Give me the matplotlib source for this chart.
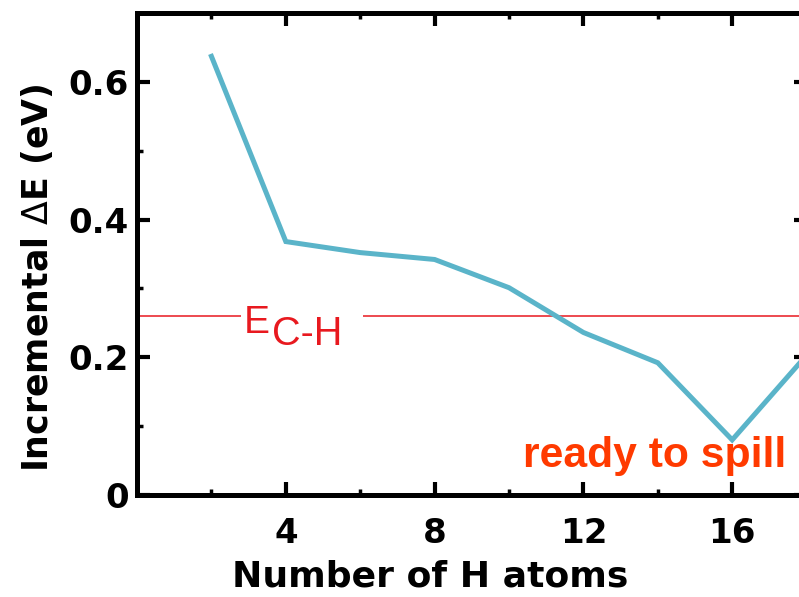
import matplotlib
matplotlib.use("Agg")
import matplotlib.pyplot as plt
from matplotlib.ticker import FixedLocator

# Incremental binding energy per added H atom
n_h = [2, 4, 6, 8, 10, 12, 14, 16, 18]
delta_e = [0.637, 0.368, 0.352, 0.342, 0.301, 0.236, 0.192, 0.080, 0.203]

# C-H bond energy reference level
e_ch = 0.26

x_major = [4, 8, 12, 16]
x_minor = [2, 6, 10, 14, 18]
y_major = [0, 0.2, 0.4, 0.6]
y_major_labels = ["0", "0.2", "0.4", "0.6"]
y_minor = [0.1, 0.3, 0.5]

xlabel = "Number of H atoms"
ylabel = r"Incremental $\Delta$E (eV)"
ref_main = "E"
ref_sub = "C-H"
note = "ready to spill"

line_color = "#5ab4c9"
ref_color = "#e8191f"
note_color = "#ff3a00"

plt.rcParams["mathtext.fontset"] = "dejavusans"

fig = plt.figure(figsize=(7.99, 5.97), dpi=100)
ax = fig.add_axes([0.1715, 0.1709, 0.838, 0.8074])

ax.plot(n_h, delta_e, color=line_color, lw=3.6, solid_joinstyle="miter",
        zorder=3, clip_on=True)

# reference line, broken around its label
ax.hlines(e_ch, 0, 2.8, color=ref_color, lw=1.1, zorder=2)
ax.hlines(e_ch, 6.07, 18, color=ref_color, lw=1.1, zorder=2)
ax.text(2.86, 0.2356, ref_main, color=ref_color, fontsize=28,
        family="Liberation Sans", ha="left", va="baseline")
ax.text(3.62, 0.218, ref_sub, color=ref_color, fontsize=28.5,
        family="Liberation Sans", ha="left", va="baseline")

ax.text(10.38, 0.0407, note, color=note_color, fontsize=30.7,
        family="Liberation Sans", fontweight="bold", ha="left",
        va="baseline", zorder=4)

ax.set_xlim(0, 18)
ax.set_ylim(0, 0.7)

ax.xaxis.set_major_locator(FixedLocator(x_major))
ax.xaxis.set_minor_locator(FixedLocator(x_minor))
ax.yaxis.set_major_locator(FixedLocator(y_major))
ax.yaxis.set_minor_locator(FixedLocator(y_minor))
ax.set_yticklabels(y_major_labels)

for s in ax.spines.values():
    s.set_linewidth(3.6)

ax.tick_params(which="both", direction="in", top=True, right=True,
               width=3.0, color="black")
ax.tick_params(which="major", length=9.5)
ax.tick_params(which="minor", length=4.5, width=2.5)
ax.tick_params(axis="x", which="major", pad=16)
ax.tick_params(axis="y", which="major", pad=6)

for lab in ax.get_xticklabels() + ax.get_yticklabels():
    lab.set_fontfamily("DejaVu Sans")
    lab.set_fontweight("bold")
    lab.set_fontsize(24.5)

ax.set_xlabel(xlabel, fontsize=26, fontweight="bold", family="DejaVu Sans")
ax.set_ylabel(ylabel, fontsize=25, fontweight="bold", family="DejaVu Sans")
ax.xaxis.set_label_coords(0.438, -0.133)
ax.yaxis.set_label_coords(-0.122, 0.451)

fig.savefig("out.png", dpi=100)
